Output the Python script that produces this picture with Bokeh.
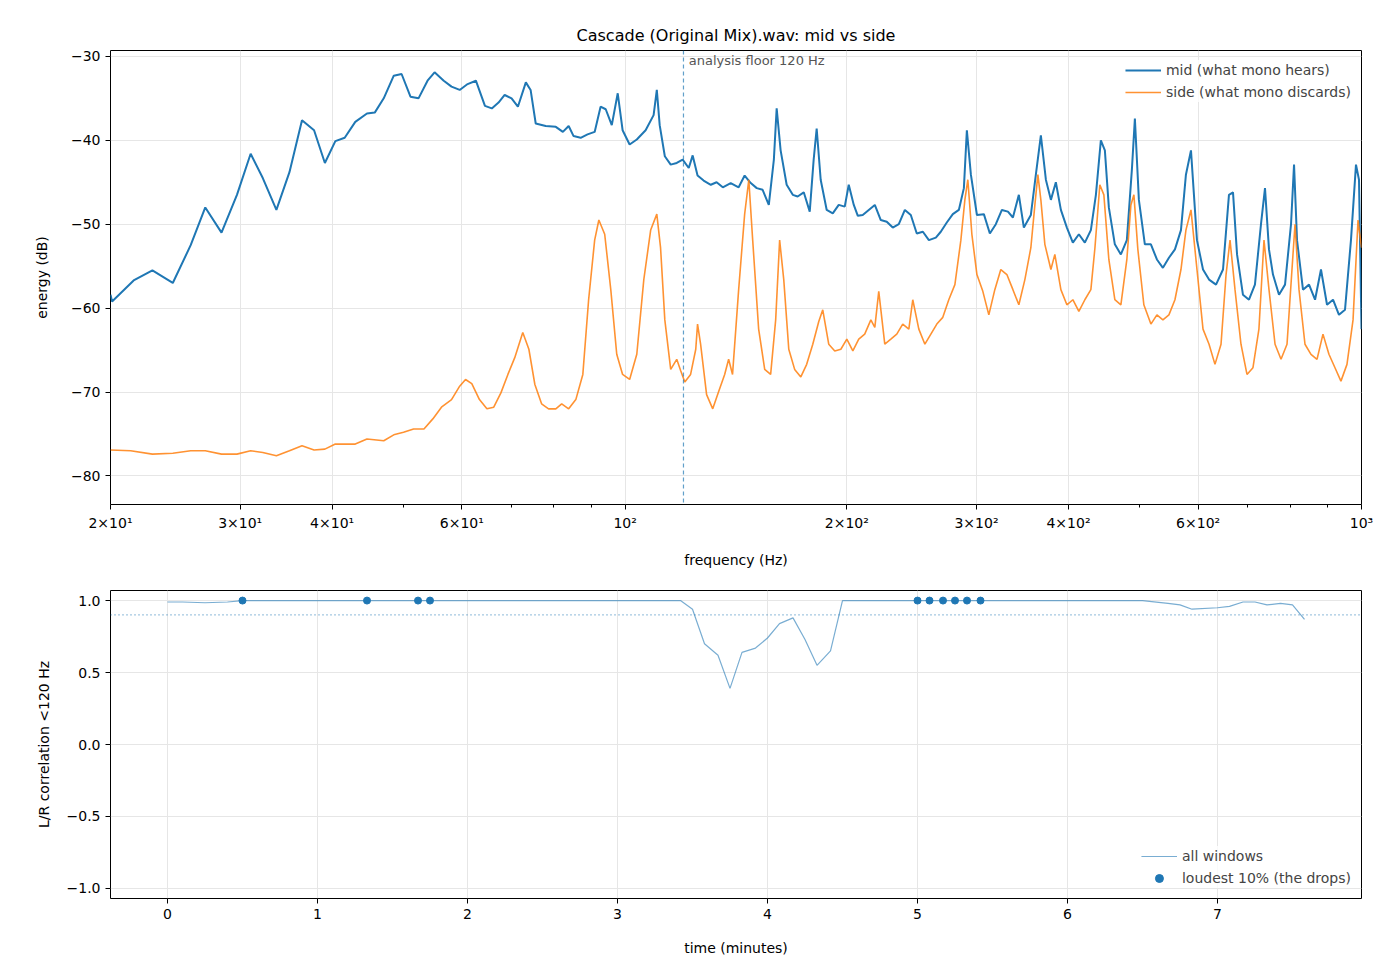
from bokeh.plotting import figure
from bokeh.layouts import column
from bokeh.models import FixedTicker, Span, Label, Legend, LegendItem, Title
from bokeh.embed import file_html
from bokeh.resources import INLINE

mid_f = [20.0,20.1,21.5,22.8,24.3,25.7,26.9,28.3,29.7,31.0,32.2,33.6,35.0,36.4,37.8,39.1,40.4,41.6,43.0,44.6,45.7,47.0,48.5,49.7,51.1,52.4,53.9,55.1,56.7,58.1,59.6,61.1,62.7,64.5,65.9,67.3,68.6,70.1,71.5,73.3,74.4,75.6,78.0,80.5,82.3,83.8,85.1,87.0,88.9,90.9,92.6,94.1,95.9,97.7,99.2,101.4,103.7,106.6,109.3,110.4,111.4,113.2,115.3,117.5,119.7,122.0,123.5,125.4,127.8,130.7,133.1,135.7,139.1,142.6,145.3,148.1,150.9,153.7,156.7,159.2,160.6,162.6,165.7,168.9,171.5,174.8,178.1,180.3,182.0,184.3,187.8,191.4,195.0,198.7,201.2,204.4,207.0,210.2,214.2,218.3,222.4,226.6,230.9,235.3,239.8,244.3,248.9,253.7,258.5,264.2,268.3,273.4,278.6,283.9,288.4,291.1,294.8,300.4,307.0,312.8,318.7,324.8,331.0,336.2,342.5,347.9,355.6,361.2,366.9,372.7,378.6,384.5,390.6,398.0,405.5,413.2,421.0,429.0,435.8,442.6,448.2,453.8,462.4,471.2,480.1,487.7,492.3,498.5,507.9,517.6,527.4,537.4,547.6,558.0,568.6,577.5,586.7,597.8,609.2,620.8,634.5,648.5,660.7,669.1,677.6,690.2,703.4,716.6,730.3,739.5,748.8,758.2,772.6,787.3,802.2,809.8,817.4,832.8,848.7,864.8,881.0,897.8,914.8,932.0,949.7,967.6,982.9,992.2,1000.0]
mid_db = [-58.4,-59.2,-56.7,-55.5,-57,-52.5,-48,-51,-46.5,-41.6,-44.5,-48.3,-43.8,-37.6,-38.8,-42.7,-40.1,-39.7,-37.8,-36.8,-36.7,-35,-32.3,-32.1,-34.8,-35,-32.9,-31.9,-32.9,-33.6,-34,-33.3,-32.9,-35.9,-36.2,-35.5,-34.6,-35,-36,-33.1,-34,-38,-38.3,-38.4,-39,-38.3,-39.5,-39.7,-39.3,-39,-36,-36.3,-38.2,-34.4,-38.8,-40.5,-39.9,-38.8,-37,-34,-38.2,-41.9,-42.9,-42.7,-42.3,-43.3,-41.8,-44.2,-44.8,-45.3,-45,-45.6,-45.1,-45.6,-44.2,-45.1,-45.7,-45.9,-47.7,-42.3,-36.2,-41.2,-45.3,-46.5,-46.7,-46.2,-48.5,-42.3,-38.6,-44.7,-48.3,-48.7,-47.7,-47.9,-45.3,-47.7,-49,-48.9,-48.3,-47.7,-49.5,-49.7,-50.4,-50,-48.3,-48.9,-51.1,-50.9,-51.9,-51.6,-50.9,-49.8,-48.8,-48.3,-45.7,-38.8,-44.1,-48.9,-48.8,-51.1,-50,-48.3,-48.5,-49.2,-46.5,-50.4,-48.9,-44.1,-39.4,-44.7,-47.1,-45,-48.3,-50.4,-52.2,-51.2,-52.2,-50.7,-46.5,-40,-41.2,-48,-52.4,-53.6,-51.9,-43.5,-37.4,-47.1,-52.4,-52.4,-54.2,-55.2,-54,-53,-50.7,-44.1,-41.2,-51.9,-55.4,-56.6,-57.2,-55.4,-46.5,-46.2,-53.6,-58.4,-59,-57.2,-50,-45.7,-53,-56,-58.4,-57.2,-50,-42.9,-51.9,-57.8,-57.2,-59,-55.4,-59.6,-59,-60.8,-60.2,-51.9,-42.9,-44.7,-62.5]

side_f = [20.0,21.3,22.8,24.3,25.7,26.9,28.3,29.7,31.0,32.2,33.6,35.0,36.4,37.8,39.1,40.4,43.0,44.6,47.0,48.5,50.0,51.6,53.3,54.8,56.3,58.1,59.6,60.7,61.9,63.4,64.9,66.3,67.8,69.3,70.8,72.6,74.0,75.4,77.0,78.7,80.5,82.0,83.8,85.7,87.6,89.2,90.9,92.1,93.8,95.6,97.4,99.2,101.4,103.7,106.0,108.3,110.4,111.7,113.2,115.3,117.5,119.0,120.5,122.7,124.7,125.4,126.6,129.0,131.5,134.0,136.5,138.2,139.9,142.6,145.3,147.2,149.0,151.8,154.7,157.6,160.1,162.1,164.2,166.8,169.9,173.2,176.4,179.8,183.2,185.5,189.0,192.6,196.3,200.0,203.8,207.6,211.5,215.6,218.3,221.0,225.2,229.5,233.8,238.2,242.8,245.8,250.5,255.3,260.1,265.0,270.0,275.1,280.4,285.7,289.3,292.0,295.7,300.4,306.0,311.8,317.7,323.7,329.9,336.2,342.5,349.0,355.6,360.1,363.5,366.9,371.5,378.6,383.3,390.6,398.0,405.5,413.2,421.0,429.0,434.5,441.2,446.8,453.8,462.4,471.2,480.1,486.2,490.8,496.9,506.3,517.6,527.4,537.4,547.6,558.0,568.6,577.5,586.7,597.8,609.2,620.8,632.4,644.5,654.7,662.9,673.3,686.0,699.0,712.2,725.6,737.2,748.8,763.1,777.5,792.2,804.6,812.3,822.5,838.0,853.9,870.1,886.5,903.2,920.4,937.7,955.6,973.9,989.2,1000.0]
side_db = [-76.9,-77,-77.4,-77.3,-77,-77,-77.4,-77.4,-77,-77.2,-77.6,-77,-76.4,-76.9,-76.8,-76.2,-76.2,-75.6,-75.8,-75.1,-74.8,-74.4,-74.4,-73.2,-71.8,-70.9,-69.3,-68.5,-69,-70.9,-72,-71.8,-70.1,-67.9,-65.9,-62.9,-64.9,-69.1,-71.4,-72,-72,-71.4,-72,-70.9,-67.9,-59,-51.9,-49.5,-51.2,-57.8,-65.5,-67.9,-68.5,-65.5,-56.6,-50.7,-48.8,-52.8,-61.4,-67.3,-66.1,-67.5,-68.8,-67.9,-64.9,-61.9,-64.3,-70.3,-72,-69.9,-67.9,-66.1,-67.9,-57.8,-48.8,-44.7,-51.9,-62.5,-67.3,-67.9,-61.4,-51.9,-56.6,-64.9,-67.3,-68.2,-66.7,-64.3,-61.6,-60.2,-64.3,-65.1,-64.9,-63.7,-65.1,-63.7,-63.1,-61.4,-62.3,-58,-64.3,-63.7,-63.1,-61.9,-62.5,-59,-62.5,-64.3,-63.1,-61.9,-61.1,-59,-57.2,-51.9,-47.1,-44.7,-51.2,-56,-58,-60.8,-57.8,-55.4,-56,-57.8,-59.6,-56.6,-52.8,-47.7,-44.1,-47.1,-52.4,-55.4,-53.6,-57.8,-59.6,-59,-60.4,-59,-57.8,-52.8,-45.3,-46.5,-54.2,-59,-59.6,-54.2,-47.7,-46.5,-53,-59.6,-61.9,-60.8,-61.4,-60.8,-59,-55.4,-50.7,-48.3,-55.4,-62.5,-64.3,-66.7,-64.3,-56,-51.9,-57.8,-64.3,-67.9,-67.1,-62.5,-51.9,-57.8,-64.3,-66.1,-64.3,-55.4,-50,-57.8,-64.3,-65.5,-66.1,-63.1,-65.5,-67.1,-68.7,-66.7,-61.4,-49.5,-52.8]

t_all = [0,0.1,0.25,0.4,0.5,1.0,2.0,3.0,3.42,3.5,3.58,3.67,3.75,3.83,3.92,4.0,4.08,4.17,4.25,4.33,4.42,4.5,5.0,6.0,6.5,6.67,6.75,6.83,7.0,7.08,7.17,7.25,7.33,7.42,7.5,7.58]
corr_all = [0.99,0.99,0.985,0.99,1.0,1.0,1.0,1.0,1.0,0.94,0.7,0.62,0.39,0.64,0.67,0.74,0.84,0.88,0.73,0.55,0.65,1.0,1.0,1.0,1.0,0.98,0.97,0.94,0.95,0.96,0.99,0.99,0.97,0.98,0.97,0.87]
t_loud = [0.5,1.33,1.67,1.75,5.0,5.08,5.17,5.25,5.33,5.42]
corr_loud = [1.0]*10

FONT = "DejaVu Sans"
BLUE = "#1f77b4"; ORANGE = "#ff7f0e"

def style(p, ystand):
    p.background_fill_color = "white"
    p.outline_line_color = "black"
    p.outline_line_width = 1
    p.grid.grid_line_color = "#e6e6e6"
    for ax in p.axis:
        ax.major_label_text_font = FONT
        ax.major_label_text_font_size = "14px"
        ax.major_label_text_color = "black"
        ax.axis_label_text_font = FONT
        ax.axis_label_text_font_size = "14px"
        ax.axis_label_text_color = "black"
        ax.axis_label_text_font_style = "normal"
        ax.axis_line_color = None
        ax.major_tick_out = 5; ax.major_tick_in = 0
        ax.minor_tick_out = 3; ax.minor_tick_in = 0
        ax.major_tick_line_color = "black"; ax.minor_tick_line_color = "black"
    p.xaxis.axis_label_standoff = 18
    p.yaxis.axis_label_standoff = ystand

p1 = figure(width=1392, height=570, x_axis_type="log", x_range=(20, 1000), y_range=(-83.4, -29.3),
            output_backend="svg", toolbar_location=None,
            min_border_left=110, min_border_right=31, min_border_top=50, min_border_bottom=64)
p1.title = Title(text="Cascade (Original Mix).wav: mid vs side", align="center", standoff=12,
                 text_font=FONT, text_font_size="16px", text_font_style="normal", text_color="black")
r1 = p1.line(mid_f, mid_db, color=BLUE, line_width=2)
r2 = p1.line(side_f, side_db, color=ORANGE, line_width=1.6, alpha=0.85)
p1.add_layout(Span(location=120, dimension="height", line_color=BLUE, line_alpha=0.7, line_dash="4 3", line_width=1.2))
p1.add_layout(Label(x=122, y=-29.6, text="analysis floor 120 Hz", text_baseline="top",
                    text_font=FONT, text_font_size="13px", text_color="#555555"))
xt = [20, 30, 40, 60, 100, 200, 300, 400, 600, 1000]
p1.xaxis.ticker = FixedTicker(ticks=xt, minor_ticks=[50, 70, 80, 90, 500, 700, 800, 900])
p1.xaxis.major_label_overrides = {20: "2×10¹", 30: "3×10¹", 40: "4×10¹", 60: "6×10¹", 100: "10²",
                                  200: "2×10²", 300: "3×10²", 400: "4×10²", 600: "6×10²", 1000: "10³"}
yt = [-80, -70, -60, -50, -40, -30]
p1.yaxis.ticker = FixedTicker(ticks=yt)
p1.yaxis.major_label_overrides = {v: "−%d" % (-v) for v in yt}
p1.xaxis.axis_label = "frequency (Hz)"
p1.yaxis.axis_label = "energy (dB)"
style(p1, 18)
leg1 = Legend(items=[LegendItem(label="mid (what mono hears)", renderers=[r1]),
                     LegendItem(label="side (what mono discards)", renderers=[r2])],
              location="top_right", border_line_color=None, background_fill_alpha=0.8,
              label_text_font=FONT, label_text_font_size="14px", glyph_width=36, spacing=2)
p1.add_layout(leg1)

p2 = figure(width=1392, height=402, x_range=(-0.38, 7.96), y_range=(-1.07, 1.07),
            output_backend="svg", toolbar_location=None,
            min_border_left=110, min_border_right=31, min_border_top=20, min_border_bottom=74)
r3 = p2.line(t_all, corr_all, color=BLUE, line_width=1.2, alpha=0.6)
r4 = p2.scatter(t_loud, corr_loud, color=BLUE, size=7)
p2.add_layout(Span(location=0.9, dimension="width", line_color=BLUE, line_alpha=0.8, line_dash="1 3", line_width=1.2))
p2.xaxis.ticker = FixedTicker(ticks=list(range(8)), minor_ticks=[])
yt2 = [-1.0, -0.5, 0.0, 0.5, 1.0]
p2.yaxis.ticker = FixedTicker(ticks=yt2, minor_ticks=[])
p2.yaxis.major_label_overrides = {-1.0: "−1.0", -0.5: "−0.5", 0.0: "0.0", 0.5: "0.5", 1.0: "1.0"}
p2.xaxis.axis_label = "time (minutes)"
p2.yaxis.axis_label = "L/R correlation <120 Hz"
style(p2, 12)
leg2 = Legend(items=[LegendItem(label="all windows", renderers=[r3]),
                     LegendItem(label="loudest 10% (the drops)", renderers=[r4])],
              location="bottom_right", border_line_color=None, background_fill_alpha=0.8,
              label_text_font=FONT, label_text_font_size="14px", glyph_width=36, spacing=2)
p2.add_layout(leg2)

layout = column(p1, p2, spacing=0)
open("out.html", "w").write(file_html(layout, INLINE))
